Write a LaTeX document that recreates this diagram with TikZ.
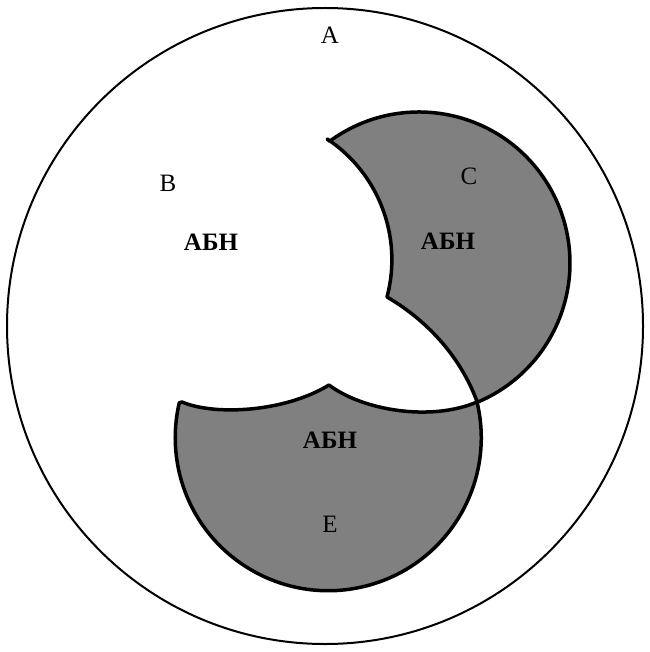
\documentclass[tikz,border=0pt]{standalone}
\usepackage{fontspec}
\setmainfont{Liberation Serif}
\definecolor{regiongray}{RGB}{128,128,128}
\begin{document}
\begin{tikzpicture}[x=1pt,y=-1pt,
  lbl/.style={font=\fontsize{25}{29}\selectfont, inner sep=0pt},
  blbl/.style={font=\fontsize{25}{29}\selectfont\bfseries, inner sep=0pt},
  region/.style={fill=regiongray, draw=black, line width=3.5pt, line join=round}]
\useasboundingbox (0,0) rectangle (649,652);
\draw[line width=2pt] (325,326) circle[radius=318];
% region E
\draw[region] (182,402) .. controls (215,416) and (285,412) .. (329,385)
  .. controls (362,410) and (430,422) .. (477,402)
  arc[start angle=-13.5, end angle=193.2, radius=153] -- cycle;
% region C
\draw[region] (329.6,141.3) arc[start angle=-126.3, end angle=67.3, radius=151]
  .. controls (462,360) and (430,322) .. (387,297)
  arc[start angle=14.9, end angle=-56.4, radius=145] -- cycle;
\node[lbl] (A) at (330,35) {A};
\node[lbl] (B) at (168,183) {B};
\node[blbl] (abnB) at (211,242) {АБН};
\node[lbl] (C) at (469,176) {C};
\node[blbl] (abnC) at (448,241) {АБН};
\node[blbl] (abnE) at (330,440) {АБН};
\node[lbl] (E) at (330,524) {E};
\end{tikzpicture}
\end{document}
